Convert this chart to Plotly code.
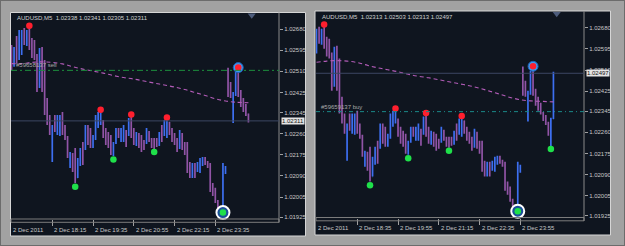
import plotly.graph_objects as go

W, H = 625, 246

# ---------------- data: AUDUSD M5, bar index 0 = 2 Dec 2011 16:55 ----------------
bar_open = [
    1.02596, 1.02536, 1.02588, 1.02564, 1.02644, 1.02660, 1.02628, 1.02668, 1.02620, 1.02588,
    1.02572, 1.02451, 1.02572, 1.02443, 1.02355, 1.02315, 1.02194, 1.02323, 1.02282, 1.02266,
    1.02323, 1.02274, 1.02242, 1.02134, 1.02174, 1.02194, 1.02082, 1.02146, 1.02194, 1.02202,
    1.02282, 1.02234, 1.02214, 1.02246, 1.02295, 1.02307, 1.02307, 1.02254, 1.02234, 1.02210,
    1.02186, 1.02226, 1.02274, 1.02242, 1.02234, 1.02266, 1.02254, 1.02315, 1.02266, 1.02214,
    1.02258, 1.02210, 1.02214, 1.02222, 1.02266, 1.02234, 1.02226, 1.02234, 1.02214, 1.02274,
    1.02254, 1.02250, 1.02307, 1.02274, 1.02250, 1.02234, 1.02202, 1.02254, 1.02214, 1.02214,
    1.02134, 1.02086, 1.02134, 1.02114, 1.02106, 1.02134, 1.02162, 1.02142, 1.02130, 1.02054,
    1.02025, 1.01985, 1.01961, 1.01957, 1.02106, 1.02515, 1.02455, 1.02407, 1.02415, 1.02503,
    1.02427, 1.02395, 1.02363, 1.02338, 1.02320, 1.02295, 1.02255, 1.02313]
bar_high = [
    1.02616, 1.02608, 1.02652, 1.02676, 1.02676, 1.02684, 1.02676, 1.02688, 1.02644, 1.02636,
    1.02580, 1.02604, 1.02608, 1.02556, 1.02403, 1.02335, 1.02295, 1.02335, 1.02335, 1.02335,
    1.02347, 1.02295, 1.02250, 1.02186, 1.02182, 1.02202, 1.02162, 1.02202, 1.02226, 1.02295,
    1.02295, 1.02282, 1.02254, 1.02335, 1.02347, 1.02351, 1.02315, 1.02282, 1.02266, 1.02254,
    1.02226, 1.02282, 1.02282, 1.02282, 1.02295, 1.02274, 1.02323, 1.02331, 1.02282, 1.02266,
    1.02262, 1.02254, 1.02234, 1.02282, 1.02270, 1.02242, 1.02242, 1.02242, 1.02266, 1.02295,
    1.02315, 1.02319, 1.02307, 1.02282, 1.02262, 1.02242, 1.02274, 1.02262, 1.02226, 1.02226,
    1.02146, 1.02142, 1.02142, 1.02146, 1.02162, 1.02166, 1.02166, 1.02150, 1.02142, 1.02062,
    1.02042, 1.01993, 1.01969, 1.02142, 1.02130, 1.02524, 1.02467, 1.02427, 1.02507, 1.02519,
    1.02435, 1.02403, 1.02379, 1.02341, 1.02329, 1.02302, 1.02318, 1.02503]
bar_low = [
    1.02515, 1.02528, 1.02540, 1.02556, 1.02576, 1.02616, 1.02612, 1.02596, 1.02564, 1.02556,
    1.02427, 1.02443, 1.02427, 1.02335, 1.02295, 1.02254, 1.02146, 1.02266, 1.02254, 1.02250,
    1.02254, 1.02234, 1.02162, 1.02122, 1.02106, 1.02062, 1.02082, 1.02130, 1.02134, 1.02194,
    1.02214, 1.02202, 1.02202, 1.02234, 1.02282, 1.02295, 1.02242, 1.02214, 1.02202, 1.02174,
    1.02170, 1.02218, 1.02242, 1.02226, 1.02226, 1.02206, 1.02250, 1.02242, 1.02214, 1.02210,
    1.02202, 1.02186, 1.02194, 1.02218, 1.02226, 1.02202, 1.02198, 1.02206, 1.02210, 1.02226,
    1.02250, 1.02242, 1.02254, 1.02226, 1.02214, 1.02186, 1.02198, 1.02194, 1.02174, 1.02102,
    1.02082, 1.02082, 1.02082, 1.02106, 1.02102, 1.02130, 1.02134, 1.02122, 1.02025, 1.02009,
    1.01981, 1.01957, 1.01957, 1.01949, 1.02098, 1.02407, 1.02403, 1.02303, 1.02411, 1.02407,
    1.02367, 1.02347, 1.02331, 1.02305, 1.02289, 1.02246, 1.02202, 1.02313]
bar_close = [
    1.02536, 1.02588, 1.02564, 1.02644, 1.02660, 1.02628, 1.02668, 1.02620, 1.02588, 1.02572,
    1.02451, 1.02572, 1.02443, 1.02355, 1.02315, 1.02274, 1.02282, 1.02282, 1.02323, 1.02323,
    1.02274, 1.02242, 1.02174, 1.02174, 1.02114, 1.02082, 1.02154, 1.02194, 1.02154, 1.02282,
    1.02234, 1.02214, 1.02246, 1.02323, 1.02335, 1.02343, 1.02254, 1.02226, 1.02210, 1.02186,
    1.02214, 1.02274, 1.02254, 1.02274, 1.02282, 1.02218, 1.02315, 1.02266, 1.02226, 1.02258,
    1.02210, 1.02194, 1.02202, 1.02274, 1.02234, 1.02210, 1.02210, 1.02214, 1.02258, 1.02242,
    1.02307, 1.02307, 1.02262, 1.02234, 1.02222, 1.02194, 1.02262, 1.02202, 1.02186, 1.02114,
    1.02094, 1.02134, 1.02094, 1.02142, 1.02154, 1.02162, 1.02142, 1.02130, 1.02042, 1.02017,
    1.01993, 1.01961, 1.01957, 1.02134, 1.02122, 1.02427, 1.02415, 1.02419, 1.02503, 1.02415,
    1.02375, 1.02355, 1.02343, 1.02311, 1.02295, 1.02255, 1.02313, 1.02497]

# moving average (read at sparse bars)
ma_idx = [0, 4, 8, 12, 16, 20, 24, 28, 32, 36, 40, 44, 48, 52, 56, 60, 64, 68, 72, 76, 80, 84, 88, 93, 97]
ma_val = [1.02541, 1.02541, 1.02546, 1.02548, 1.02546, 1.02540, 1.02529, 1.02519, 1.02511, 1.02503,
          1.02493, 1.02485, 1.02479, 1.02471, 1.02463, 1.02455, 1.02447, 1.02437, 1.02425, 1.02413,
          1.02400, 1.02391, 1.02386, 1.02384, 1.02382]

# fractal markers
up_idx = [7, 35, 47, 61, 89]
up_val = [1.02693, 1.02356, 1.02337, 1.02325, 1.02525]
dn_idx = [25, 40, 56, 83, 96]
dn_val = [1.02047, 1.02156, 1.02186, 1.01943, 1.02193]
hi_ring_idx = [89]
hi_ring_val = [1.02525]
lo_ring_idx = [83]
lo_ring_val = [1.01943]

# x labels
left_tick_idx = [16, 32, 48, 64, 80]
left_tick_txt = ["2 Dec 18:15", "2 Dec 19:35", "2 Dec 20:55", "2 Dec 22:15", "2 Dec 23:35"]
right_tick_idx = [20, 36, 52, 68, 84]
right_tick_txt = ["2 Dec 18:35", "2 Dec 19:55", "2 Dec 21:15", "2 Dec 22:35", "2 Dec 23:55"]
start_label = "2 Dec 2011"

y_ticks = [1.02680, 1.02595, 1.02510, 1.02425, 1.02345, 1.02260, 1.02175, 1.02090, 1.02005, 1.01925]

order_price = [1.02514, 1.02343]
order_text = ["#59658137 sell", "#59659137 buy"]
symbol = "AUDUSD,M5"

# ---------------- styling ----------------
FONT = "Liberation Sans"
BLUE = "#3d6ff0"
PURPLE = "#9154a6"
BG = "#0f151f"

def fx(px):
    return px / W

def fy(py):
    return 1 - py / H

panels = [
    dict(lo=0, hi=93, xa="x", ya="y", xr=[-0.2, 105.0], yr=[1.019170, 1.027423],
         dx=(11, 279), dy=(13.5, 219), ticks=(left_tick_idx, left_tick_txt), lab_y=229.7,
         head=(15, 18), win=(10.5, 12.5, 305.5, 236), order_col="#1d8f3e",
         order_dash="6px,3px,2px,3px"),
    dict(lo=4, hi=97, xa="x2", ya="y2", xr=[3.8, 109.0], yr=[1.019178, 1.027431],
         dx=(316, 584), dy=(12, 217.5), ticks=(right_tick_idx, right_tick_txt), lab_y=228,
         head=(319.5, 16.7), win=(315, 11, 610.5, 235), order_col="#1b8a8a",
         order_dash="4px,3px,1px,3px"),
]

fig = go.Figure()
shapes = []
annotations = []

# outer image border
shapes.append(dict(type="rect", xref="paper", yref="paper", x0=0, x1=1, y0=0, y1=1,
                   line=dict(color="#6c6c6c", width=2), fillcolor="rgba(0,0,0,0)", layer="below"))

for k, p in enumerate(panels):
    lo, hi = p["lo"], p["hi"]
    idx = list(range(lo, hi + 1))
    xa, ya = p["xa"], p["ya"]
    wx0, wy0, wx1, wy1 = p["win"]
    # window background + frame
    shapes.append(dict(type="rect", xref="paper", yref="paper", x0=fx(wx0), x1=fx(wx1),
                       y0=fy(wy1), y1=fy(wy0), fillcolor=BG,
                       line=dict(color="#d6d6d6", width=1), layer="below"))
    # bottom band
    shapes.append(dict(type="rect", xref="paper", yref="paper", x0=fx(p["dx"][0]), x1=fx(p["dx"][1]),
                       y0=fy(p["dy"][1] + 3.3), y1=fy(p["dy"][1]),
                       line=dict(color="#7c7c7c", width=1), fillcolor="rgba(0,0,0,0)"))
    # price-axis separator
    shapes.append(dict(type="line", xref="paper", yref="paper", x0=fx(p["dx"][1]), x1=fx(p["dx"][1]),
                       y0=fy(p["dy"][1] + 3.5), y1=fy(p["dy"][0] - 1),
                       line=dict(color="#8a8a8a", width=1)))

    # order line
    shapes.append(dict(type="line", xref=f"{xa} domain", yref=ya, x0=0, x1=1,
                       y0=order_price[k], y1=order_price[k],
                       line=dict(color=p["order_col"], width=1, dash=p["order_dash"])))
    # bid line (last close)
    bid = bar_close[hi]
    shapes.append(dict(type="line", xref=f"{xa} domain", yref=ya, x0=0, x1=1, y0=bid, y1=bid,
                       line=dict(color="#3c4763", width=1)))

    # bars
    fig.add_trace(go.Ohlc(
        x=idx, open=bar_open[lo:hi + 1], high=bar_high[lo:hi + 1],
        low=bar_low[lo:hi + 1], close=bar_close[lo:hi + 1],
        increasing=dict(line=dict(color=BLUE, width=1.7)),
        decreasing=dict(line=dict(color=PURPLE, width=1.7)),
        tickwidth=0.1, xaxis=xa, yaxis=ya, showlegend=False, hoverinfo="skip"))

    # moving average
    mx = [i for i in ma_idx if lo <= i <= hi]
    my = [v for i, v in zip(ma_idx, ma_val) if lo <= i <= hi]
    fig.add_trace(go.Scatter(x=mx, y=my, mode="lines", xaxis=xa, yaxis=ya,
                             line=dict(color="#b35cb8", width=1.1, dash="4px,3px", shape="spline"),
                             showlegend=False, hoverinfo="skip"))

    # rings
    rx = [i for i in hi_ring_idx if lo <= i <= hi]
    ry = [v for i, v in zip(hi_ring_idx, hi_ring_val) if lo <= i <= hi]
    fig.add_trace(go.Scatter(x=rx, y=ry, mode="markers", xaxis=xa, yaxis=ya,
                             marker=dict(size=10, color="#3a9cf2", line=dict(color="#1f5fb5", width=1)),
                             showlegend=False, hoverinfo="skip", cliponaxis=False))
    lx = [i for i in lo_ring_idx if lo <= i <= hi]
    lyv = [v for i, v in zip(lo_ring_idx, lo_ring_val) if lo <= i <= hi]
    fig.add_trace(go.Scatter(x=lx, y=lyv, mode="markers", xaxis=xa, yaxis=ya,
                             marker=dict(size=13, color="#1c4f98", line=dict(color="#ffffff", width=2)),
                             showlegend=False, hoverinfo="skip", cliponaxis=False))

    # fractals
    ux = [i for i in up_idx if lo <= i <= hi]
    uy = [v for i, v in zip(up_idx, up_val) if lo <= i <= hi]
    fig.add_trace(go.Scatter(x=ux, y=uy, mode="markers", xaxis=xa, yaxis=ya,
                             marker=dict(size=6.5, color="#ff1f2e"),
                             showlegend=False, hoverinfo="skip", cliponaxis=False))
    dx_ = [i for i in dn_idx if lo <= i <= hi]
    dy_ = [v for i, v in zip(dn_idx, dn_val) if lo <= i <= hi]
    fig.add_trace(go.Scatter(x=dx_, y=dy_, mode="markers", xaxis=xa, yaxis=ya,
                             marker=dict(size=6.5, color="#1fe04a"),
                             showlegend=False, hoverinfo="skip", cliponaxis=False))

    # chart shift marker
    span = p["yr"][1] - p["yr"][0]
    fig.add_trace(go.Scatter(x=[hi + 1.3], y=[p["yr"][1] - span * 0.008], mode="markers",
                             xaxis=xa, yaxis=ya,
                             marker=dict(symbol="triangle-down", size=7, color="#4d5c7c"),
                             showlegend=False, hoverinfo="skip", cliponaxis=False))

    # header
    head = f"{symbol}  {bar_open[hi]:.5f} {bar_high[hi]:.5f} {bar_low[hi]:.5f} {bar_close[hi]:.5f}"
    annotations.append(dict(text=head, xref="paper", yref="paper", x=fx(p["head"][0]),
                            y=fy(p["head"][1]), xanchor="left", yanchor="middle", showarrow=False,
                            font=dict(family=FONT, size=6, color="#d0d0d0")))
    # order label
    annotations.append(dict(text=order_text[k], xref=f"{xa} domain", yref=ya, x=0.012,
                            y=order_price[k], xanchor="left", yanchor="bottom", yshift=0,
                            showarrow=False, font=dict(family=FONT, size=6, color="#a9a9a9")))
    # bid price box
    annotations.append(dict(text=f"{bid:.5f}", xref="paper", yref=ya, x=fx(p["dx"][1] + 1.5),
                            y=bid, xanchor="left", yanchor="middle", showarrow=False,
                            bgcolor="#e4e4e4", borderpad=0,
                            font=dict(family=FONT, size=6, color="#111111")))
    # x labels
    annotations.append(dict(text=start_label, xref="paper", yref="paper", x=fx(p["dx"][0]),
                            y=fy(p["lab_y"]), xanchor="left", yanchor="middle", showarrow=False,
                            font=dict(family=FONT, size=6, color="#c8c8c8")))
    for ti, tt in zip(*p["ticks"]):
        annotations.append(dict(text=tt, xref=xa, yref="paper", x=ti, y=fy(p["lab_y"]),
                                xanchor="left", yanchor="middle", showarrow=False,
                                font=dict(family=FONT, size=6, color="#c8c8c8")))

    xkey = "xaxis" if xa == "x" else "xaxis2"
    ykey = "yaxis" if ya == "y" else "yaxis2"
    fig.update_layout(**{
        xkey: dict(domain=[fx(p["dx"][0]), fx(p["dx"][1])], range=p["xr"], anchor=ya,
                   showgrid=False, zeroline=False, showline=False, ticks="outside",
                   tickvals=p["ticks"][0], ticklen=6, tickcolor="#a0a0a0", showticklabels=False,
                   rangeslider=dict(visible=False), fixedrange=True),
        ykey: dict(domain=[fy(p["dy"][1]), fy(p["dy"][0])], range=p["yr"], anchor=xa, side="right",
                   showgrid=False, zeroline=False, showline=False, ticks="outside", ticklen=3,
                   tickcolor="#a0a0a0", tickvals=y_ticks, tickformat=".5f",
                   tickfont=dict(family=FONT, size=6, color="#c8c8c8"), fixedrange=True),
    })

fig.update_layout(
    width=W, height=H, margin=dict(l=0, r=0, t=0, b=0),
    paper_bgcolor="#a2a2a2", plot_bgcolor=BG,
    shapes=shapes, annotations=annotations, showlegend=False,
)

fig.write_html("out.html")
